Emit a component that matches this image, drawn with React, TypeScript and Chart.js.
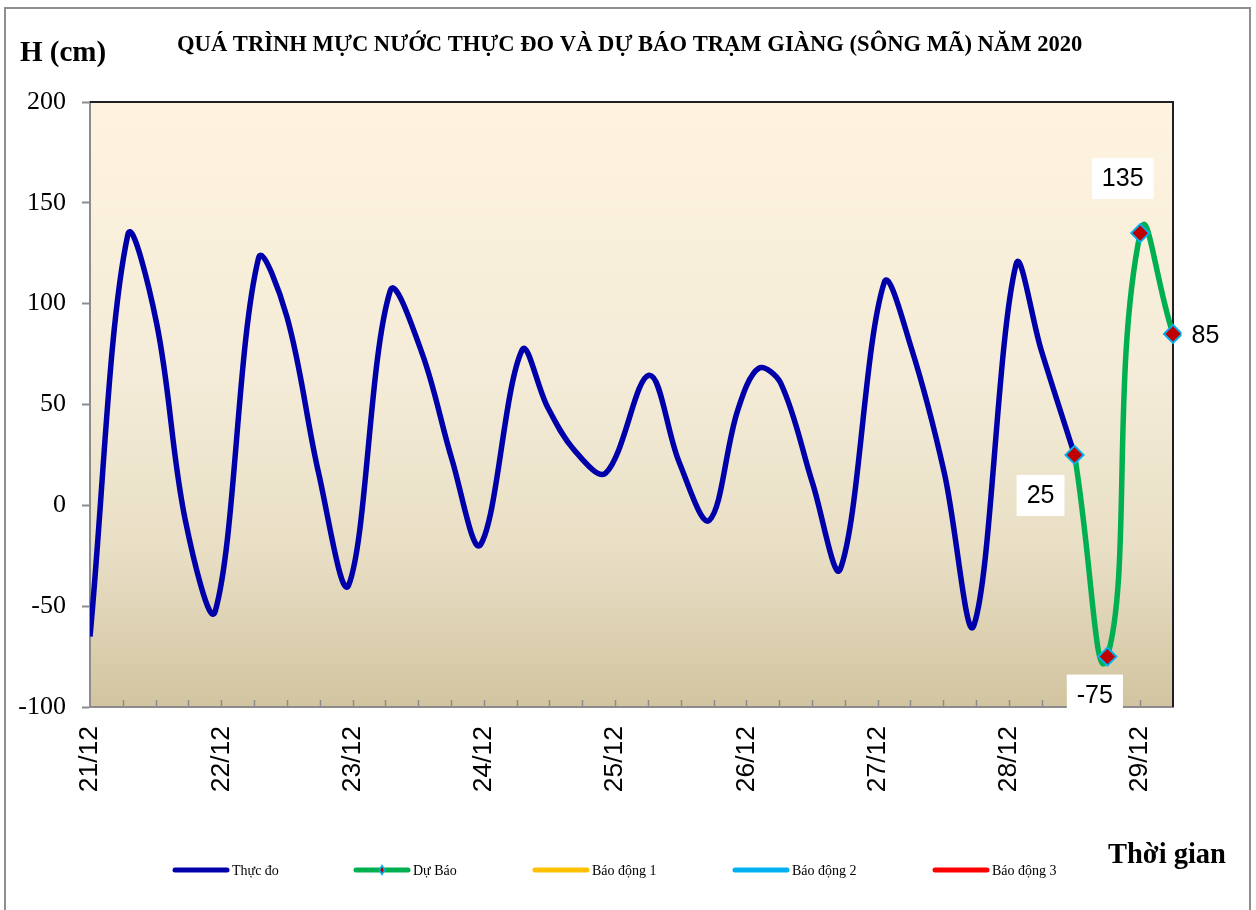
import React, { useEffect, useRef } from 'react';
import { Chart, registerables } from 'chart.js';

Chart.register(...registerables);

// ---------- data ----------
const TITLE = 'QUÁ TRÌNH MỰC NƯỚC THỰC ĐO VÀ DỰ BÁO TRẠM GIÀNG (SÔNG MÃ) NĂM 2020';
const Y_TITLE = 'H (cm)';
const X_TITLE = 'Thời gian';
const DAY_LABELS = ['21/12', '22/12', '23/12', '24/12', '25/12', '26/12', '27/12', '28/12', '29/12'];
const HOURS_PER_DAY = 24;
const TICK_STEP_HOURS = 6;
const X_MAX_HOURS = 198;
const Y_MIN = -100;
const Y_MAX = 200;
const Y_STEP = 50;

// observed water level (hours since 21/12 00h, cm)
const OBS_HOURS = [0, 6.9, 12.2, 17.4, 22.9, 30.8, 36, 41.8, 47.3, 54.9, 60.7, 66.2, 71.4, 79, 83.6, 88.5, 94.3, 102.2, 107.7, 113.2, 118.4, 122.3, 126.3, 132.1, 137.2, 145.2, 150.1, 156.2, 161.6, 169.3, 173.9, 180];
const OBS_LEVELS = [-65, 134, 90, -7, -52.5, 122.5, 93.5, 16, -39.5, 106.5, 75.5, 22.5, -19.5, 77, 49, 27.5, 16, 64.5, 21.5, -7.5, 47, 68, 60.5, 11, -31.5, 110.5, 78.5, 16, -59.5, 119.5, 77, 25];

// forecast
const FC_HOURS = [180, 186, 192, 198];
const FC_LEVELS = [25, -75, 135, 85];

const SERIES_NAMES = ['Thực đo', 'Dự Báo', 'Báo động 1', 'Báo động 2', 'Báo động 3'];
const SERIES_COLORS = ['#0000AA', '#00B050', '#FFC000', '#00B0F0', '#FF0000'];

// ---------- styles ----------
const SERIF = "'Liberation Serif', 'Times New Roman', serif";
const SANS = "'Liberation Sans', Arial, sans-serif";
const AXIS_GRAY = '#8c8c8c';
const MARKER_FILL = '#C00000';
const MARKER_EDGE = '#00B0F0';
const LABEL_OFFSETS = [
  [-34, 40.5],
  [-12.5, 38.5],
  [-17.5, -54.5],
  [32.5, 1],
];
const LEGEND_X = [175, 356, 535, 735, 935];
const LEGEND_LINE_W = 52;
const LEGEND_Y = 870;

const decoPlugin = {
  id: 'deco',
  beforeDraw(chart: any) {
    const { ctx, chartArea: a, width, height } = chart;
    ctx.save();
    ctx.fillStyle = '#ffffff';
    ctx.fillRect(0, 0, width, height);
    ctx.strokeStyle = '#8e8e8e';
    ctx.lineWidth = 2;
    ctx.strokeRect(5, 8, 1245, height + 20);
    const g = ctx.createLinearGradient(0, a.top, 0, a.bottom);
    g.addColorStop(0, '#FEF3DE');
    g.addColorStop(0.45, '#F4ECD8');
    g.addColorStop(0.75, '#E8DEC4');
    g.addColorStop(1, '#D2C4A0');
    ctx.fillStyle = g;
    ctx.fillRect(a.left, a.top, a.right - a.left, a.bottom - a.top);
    ctx.restore();
  },
  beforeDatasetsDraw(chart: any) {
    const { ctx, chartArea: a } = chart;
    const xs = chart.scales.x;
    ctx.save();
    ctx.strokeStyle = AXIS_GRAY;
    ctx.lineWidth = 1.5;
    ctx.beginPath();
    xs.ticks.forEach((t: any) => {
      const px = Math.round(xs.getPixelForValue(t.value)) + 0.5;
      if (px <= a.left + 2 || px >= a.right - 2) return;
      ctx.moveTo(px, a.bottom);
      ctx.lineTo(px, a.bottom - 7);
    });
    ctx.stroke();
    ctx.strokeStyle = '#1f1f1f';
    ctx.lineWidth = 2;
    ctx.beginPath();
    ctx.moveTo(a.left, a.top);
    ctx.lineTo(a.right, a.top);
    ctx.lineTo(a.right, a.bottom);
    ctx.stroke();
    ctx.restore();
  },
  afterDraw(chart: any) {
    const { ctx } = chart;
    ctx.save();
    // titles
    ctx.fillStyle = '#000';
    ctx.textAlign = 'left';
    ctx.textBaseline = 'alphabetic';
    ctx.font = `bold 29px ${SERIF}`;
    ctx.fillText(Y_TITLE, 20, 61);
    ctx.font = `bold 22.6px ${SERIF}`;
    ctx.fillText(TITLE, 177, 51);
    ctx.font = `bold 28.5px ${SERIF}`;
    ctx.fillText(X_TITLE, 1108, 863);

    // legend
    SERIES_NAMES.forEach((name, i) => {
      const x0 = LEGEND_X[i];
      ctx.strokeStyle = SERIES_COLORS[i];
      ctx.lineWidth = 5;
      ctx.lineCap = 'round';
      ctx.beginPath();
      ctx.moveTo(x0, LEGEND_Y);
      ctx.lineTo(x0 + LEGEND_LINE_W, LEGEND_Y);
      ctx.stroke();
      if (i === 1) {
        const cx = x0 + LEGEND_LINE_W / 2;
        ctx.fillStyle = MARKER_EDGE;
        ctx.beginPath();
        ctx.moveTo(cx, LEGEND_Y - 6);
        ctx.lineTo(cx + 3.5, LEGEND_Y);
        ctx.lineTo(cx, LEGEND_Y + 6);
        ctx.lineTo(cx - 3.5, LEGEND_Y);
        ctx.closePath();
        ctx.fill();
        ctx.fillStyle = MARKER_FILL;
        ctx.beginPath();
        ctx.moveTo(cx, LEGEND_Y - 3);
        ctx.lineTo(cx + 1.8, LEGEND_Y);
        ctx.lineTo(cx, LEGEND_Y + 3);
        ctx.lineTo(cx - 1.8, LEGEND_Y);
        ctx.closePath();
        ctx.fill();
      }
      ctx.fillStyle = '#000';
      ctx.font = `14px ${SERIF}`;
      ctx.textAlign = 'left';
      ctx.textBaseline = 'alphabetic';
      ctx.fillText(name, x0 + LEGEND_LINE_W + 5, LEGEND_Y + 5);
    });

    // data labels for forecast
    const meta = chart.getDatasetMeta(0);
    ctx.font = `25px ${SANS}`;
    ctx.textAlign = 'center';
    ctx.textBaseline = 'middle';
    meta.data.forEach((pt: any, i: number) => {
      const txt = String(FC_LEVELS[i]);
      const [dx, dy] = LABEL_OFFSETS[i];
      const cx = pt.x + dx;
      const cy = pt.y + dy;
      const w = ctx.measureText(txt).width + 20;
      const h = 41;
      ctx.fillStyle = '#ffffff';
      ctx.fillRect(cx - w / 2, cy - h / 2, w, h);
      ctx.fillStyle = '#000';
      ctx.fillText(txt, cx, cy + 1);
    });
    ctx.restore();
  },
};

export default function App() {
  const ref = useRef<HTMLCanvasElement | null>(null);

  useEffect(() => {
    if (!ref.current) return;
    const obs = OBS_HOURS.map((h, i) => ({ x: h, y: OBS_LEVELS[i] }));
    const fc = FC_HOURS.map((h, i) => ({ x: h, y: FC_LEVELS[i] }));
    const chart = new Chart(ref.current, {
      type: 'line',
      data: {
        datasets: [
          {
            label: SERIES_NAMES[1],
            data: fc,
            borderColor: SERIES_COLORS[1],
            borderWidth: 5.5,
            tension: 0.55,
            pointStyle: 'rectRot',
            pointRadius: 9,
            pointBackgroundColor: MARKER_FILL,
            pointBorderColor: MARKER_EDGE,
            pointBorderWidth: 2,
            clip: false,
            order: 0,
          },
          {
            label: SERIES_NAMES[0],
            data: obs,
            borderColor: SERIES_COLORS[0],
            borderWidth: 5.5,
            tension: 0.35,
            pointRadius: 0,
            order: 1,
          },
          { label: SERIES_NAMES[2], data: [], borderColor: SERIES_COLORS[2], order: 2 },
          { label: SERIES_NAMES[3], data: [], borderColor: SERIES_COLORS[3], order: 3 },
          { label: SERIES_NAMES[4], data: [], borderColor: SERIES_COLORS[4], order: 4 },
        ],
      },
      options: {
        animation: false,
        responsive: false,
        devicePixelRatio: 1,
        events: [],
        layout: { padding: { top: 102, right: 83, bottom: 0, left: 0 } },
        plugins: {
          legend: { display: false },
          tooltip: { enabled: false },
          title: { display: false },
        },
        scales: {
          x: {
            type: 'linear',
            min: 0,
            max: X_MAX_HOURS,
            afterFit: (s: any) => {
              s.height = 203;
            },
            border: { color: AXIS_GRAY, width: 2 },
            grid: { display: false, drawTicks: false },
            ticks: {
              stepSize: TICK_STEP_HOURS,
              autoSkip: false,
              maxRotation: 90,
              minRotation: 90,
              padding: 19,
              color: '#000',
              font: { family: SANS, size: 26.5 },
              callback: (v: any) => {
                const d = Number(v) / HOURS_PER_DAY;
                return Number.isInteger(d) && DAY_LABELS[d] ? DAY_LABELS[d] : '';
              },
            },
          },
          y: {
            min: Y_MIN,
            max: Y_MAX,
            afterFit: (s: any) => {
              s.width = 90;
            },
            border: { color: AXIS_GRAY, width: 2 },
            grid: {
              drawOnChartArea: false,
              drawTicks: true,
              tickLength: 8,
              tickColor: AXIS_GRAY,
              tickWidth: 2,
            },
            ticks: {
              stepSize: Y_STEP,
              padding: 16,
              color: '#000',
              font: { family: SERIF, size: 26 },
            },
          },
        },
      },
      plugins: [decoPlugin],
    });
    return () => chart.destroy();
  }, []);

  return (
    <div style={{ position: 'absolute', left: 0, top: 0, width: 1256, height: 910, background: '#fff' }}>
      <canvas ref={ref} width={1256} height={910} style={{ display: 'block', width: 1256, height: 910 }} />
    </div>
  );
}
